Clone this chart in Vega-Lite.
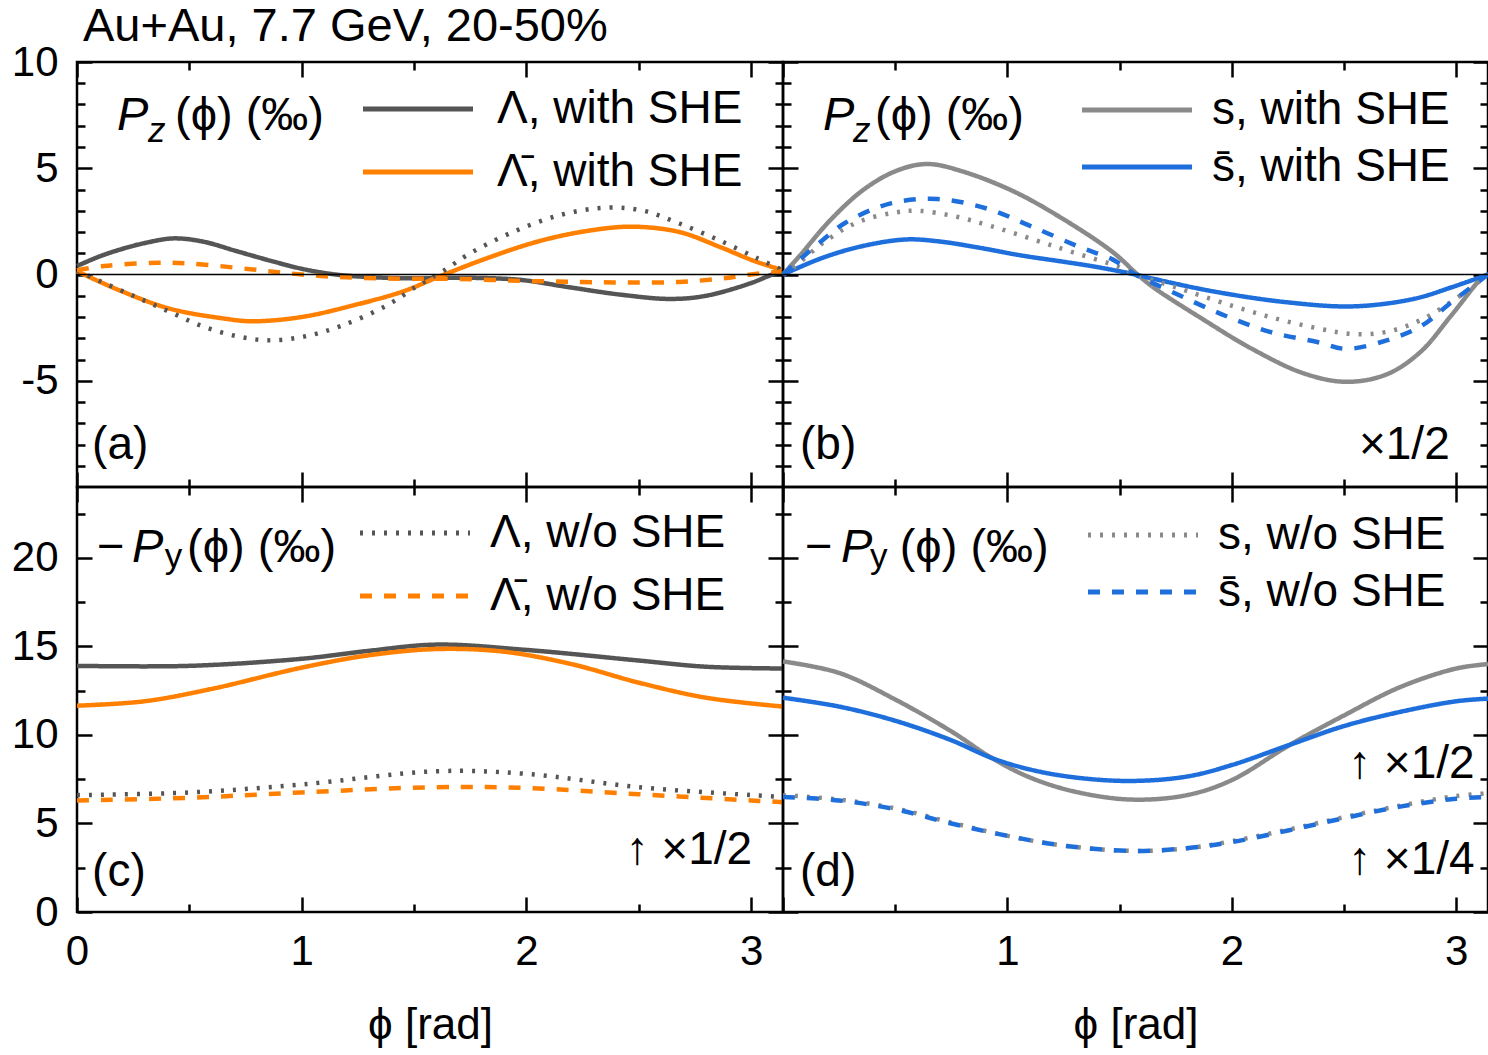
{
  "$schema": "https://vega.github.io/schema/vega-lite/v6.json",
  "autosize": {"type": "pad"},
  "padding": {"left": 10, "top": 1, "right": 0, "bottom": 5},
  "background": "white",
  "config": {
    "font": "Liberation Sans",
    "view": {"stroke": "black", "strokeWidth": 2.5},
    "axis": {
      "domain": false, "grid": false, "tickColor": "black", "tickWidth": 2.5,
      "labelFont": "Liberation Sans", "labelFontSize": 42, "labelColor": "black",
      "labelFlush": false, "labelOverlap": false, "labelBound": false,
      "titleFont": "Liberation Sans", "titleFontSize": 44, "titleFontWeight": "normal", "titleColor": "black"
    },
    "legend": {
      "orient": "none", "title": null, "padding": 0, "rowPadding": 6,
      "symbolType": "stroke", "symbolSize": 12100, "symbolStrokeWidth": 5,
      "labelFont": "Liberation Sans", "labelFontSize": 46, "labelColor": "black", "labelLimit": 600
    },
    "text": {"font": "Liberation Sans", "fontSize": 46, "color": "black"}
  },
  "datasets": {
    "pa": [
      {"series": "\u039b, with SHE", "phi": 0, "value": 0.4},
      {"series": "\u039b, with SHE", "phi": 0.1, "value": 0.85},
      {"series": "\u039b, with SHE", "phi": 0.2, "value": 1.2},
      {"series": "\u039b, with SHE", "phi": 0.31, "value": 1.5},
      {"series": "\u039b, with SHE", "phi": 0.43, "value": 1.7},
      {"series": "\u039b, with SHE", "phi": 0.56, "value": 1.55},
      {"series": "\u039b, with SHE", "phi": 0.71, "value": 1.1},
      {"series": "\u039b, with SHE", "phi": 0.86, "value": 0.65},
      {"series": "\u039b, with SHE", "phi": 1.0, "value": 0.27},
      {"series": "\u039b, with SHE", "phi": 1.15, "value": 0.0},
      {"series": "\u039b, with SHE", "phi": 1.3, "value": -0.12},
      {"series": "\u039b, with SHE", "phi": 1.5, "value": -0.18},
      {"series": "\u039b, with SHE", "phi": 1.7, "value": -0.15},
      {"series": "\u039b, with SHE", "phi": 1.97, "value": -0.25},
      {"series": "\u039b, with SHE", "phi": 2.19, "value": -0.6},
      {"series": "\u039b, with SHE", "phi": 2.42, "value": -0.95},
      {"series": "\u039b, with SHE", "phi": 2.64, "value": -1.15},
      {"series": "\u039b, with SHE", "phi": 2.8, "value": -1.0},
      {"series": "\u039b, with SHE", "phi": 3.0, "value": -0.4},
      {"series": "\u039b, with SHE", "phi": 3.07, "value": -0.1},
      {"series": "\u039b, with SHE", "phi": 3.1416, "value": 0.2},

      {"series": "\u039b\u0304, with SHE", "phi": 0, "value": 0.15},
      {"series": "\u039b\u0304, with SHE", "phi": 0.19, "value": -0.75},
      {"series": "\u039b\u0304, with SHE", "phi": 0.41, "value": -1.6},
      {"series": "\u039b\u0304, with SHE", "phi": 0.64, "value": -2.05},
      {"series": "\u039b\u0304, with SHE", "phi": 0.78, "value": -2.2},
      {"series": "\u039b\u0304, with SHE", "phi": 1.0, "value": -2.0},
      {"series": "\u039b\u0304, with SHE", "phi": 1.23, "value": -1.45},
      {"series": "\u039b\u0304, with SHE", "phi": 1.45, "value": -0.8},
      {"series": "\u039b\u0304, with SHE", "phi": 1.6, "value": -0.15},
      {"series": "\u039b\u0304, with SHE", "phi": 1.82, "value": 0.75},
      {"series": "\u039b\u0304, with SHE", "phi": 2.05, "value": 1.55},
      {"series": "\u039b\u0304, with SHE", "phi": 2.27, "value": 2.05},
      {"series": "\u039b\u0304, with SHE", "phi": 2.47, "value": 2.25},
      {"series": "\u039b\u0304, with SHE", "phi": 2.68, "value": 2.0},
      {"series": "\u039b\u0304, with SHE", "phi": 2.86, "value": 1.3},
      {"series": "\u039b\u0304, with SHE", "phi": 3.01, "value": 0.65},
      {"series": "\u039b\u0304, with SHE", "phi": 3.1416, "value": 0.2},

      {"series": "\u039b, w/o SHE", "phi": 0, "value": 0.2},
      {"series": "\u039b, w/o SHE", "phi": 0.1, "value": -0.3},
      {"series": "\u039b, w/o SHE", "phi": 0.25, "value": -1.0},
      {"series": "\u039b, w/o SHE", "phi": 0.4, "value": -1.7},
      {"series": "\u039b, w/o SHE", "phi": 0.55, "value": -2.4},
      {"series": "\u039b, w/o SHE", "phi": 0.71, "value": -2.9},
      {"series": "\u039b, w/o SHE", "phi": 0.86, "value": -3.1},
      {"series": "\u039b, w/o SHE", "phi": 1.02, "value": -2.9},
      {"series": "\u039b, w/o SHE", "phi": 1.18, "value": -2.4},
      {"series": "\u039b, w/o SHE", "phi": 1.38, "value": -1.45},
      {"series": "\u039b, w/o SHE", "phi": 1.52, "value": -0.5},
      {"series": "\u039b, w/o SHE", "phi": 1.62, "value": 0.1},
      {"series": "\u039b, w/o SHE", "phi": 1.75, "value": 1.0},
      {"series": "\u039b, w/o SHE", "phi": 1.94, "value": 2.0},
      {"series": "\u039b, w/o SHE", "phi": 2.15, "value": 2.8},
      {"series": "\u039b, w/o SHE", "phi": 2.36, "value": 3.15},
      {"series": "\u039b, w/o SHE", "phi": 2.52, "value": 3.0},
      {"series": "\u039b, w/o SHE", "phi": 2.68, "value": 2.4},
      {"series": "\u039b, w/o SHE", "phi": 2.86, "value": 1.6},
      {"series": "\u039b, w/o SHE", "phi": 3.03, "value": 0.75},
      {"series": "\u039b, w/o SHE", "phi": 3.1416, "value": 0.2},

      {"series": "\u039b\u0304, w/o SHE", "phi": 0, "value": 0.2},
      {"series": "\u039b\u0304, w/o SHE", "phi": 0.12, "value": 0.4},
      {"series": "\u039b\u0304, w/o SHE", "phi": 0.36, "value": 0.55},
      {"series": "\u039b\u0304, w/o SHE", "phi": 0.5, "value": 0.52},
      {"series": "\u039b\u0304, w/o SHE", "phi": 0.77, "value": 0.25},
      {"series": "\u039b\u0304, w/o SHE", "phi": 1.0, "value": 0.0},
      {"series": "\u039b\u0304, w/o SHE", "phi": 1.23, "value": -0.15},
      {"series": "\u039b\u0304, w/o SHE", "phi": 1.45, "value": -0.2},
      {"series": "\u039b\u0304, w/o SHE", "phi": 1.67, "value": -0.2},
      {"series": "\u039b\u0304, w/o SHE", "phi": 1.97, "value": -0.3},
      {"series": "\u039b\u0304, w/o SHE", "phi": 2.24, "value": -0.35},
      {"series": "\u039b\u0304, w/o SHE", "phi": 2.46, "value": -0.38},
      {"series": "\u039b\u0304, w/o SHE", "phi": 2.68, "value": -0.35},
      {"series": "\u039b\u0304, w/o SHE", "phi": 2.86, "value": -0.2},
      {"series": "\u039b\u0304, w/o SHE", "phi": 3.0, "value": 0.0},
      {"series": "\u039b\u0304, w/o SHE", "phi": 3.1416, "value": 0.15}
    ],
    "pb": [
      {"series": "s, with SHE", "phi": 0, "value": 0},
      {"series": "s, with SHE", "phi": 0.076, "value": 0.9},
      {"series": "s, with SHE", "phi": 0.21, "value": 2.55},
      {"series": "s, with SHE", "phi": 0.36, "value": 4.0},
      {"series": "s, with SHE", "phi": 0.51, "value": 4.9},
      {"series": "s, with SHE", "phi": 0.645, "value": 5.2},
      {"series": "s, with SHE", "phi": 0.8, "value": 4.85},
      {"series": "s, with SHE", "phi": 1.03, "value": 3.9},
      {"series": "s, with SHE", "phi": 1.25, "value": 2.6},
      {"series": "s, with SHE", "phi": 1.47, "value": 1.05},
      {"series": "s, with SHE", "phi": 1.58, "value": 0.0},
      {"series": "s, with SHE", "phi": 1.65, "value": -0.6},
      {"series": "s, with SHE", "phi": 1.87, "value": -2.1},
      {"series": "s, with SHE", "phi": 2.09, "value": -3.5},
      {"series": "s, with SHE", "phi": 2.32, "value": -4.65},
      {"series": "s, with SHE", "phi": 2.51, "value": -5.05},
      {"series": "s, with SHE", "phi": 2.69, "value": -4.7},
      {"series": "s, with SHE", "phi": 2.84, "value": -3.65},
      {"series": "s, with SHE", "phi": 2.98, "value": -1.9},
      {"series": "s, with SHE", "phi": 3.12, "value": -0.1},
      {"series": "s, with SHE", "phi": 3.1416, "value": 0},

      {"series": "s\u0304, with SHE", "phi": 0, "value": 0},
      {"series": "s\u0304, with SHE", "phi": 0.18, "value": 0.8},
      {"series": "s\u0304, with SHE", "phi": 0.36, "value": 1.35},
      {"series": "s\u0304, with SHE", "phi": 0.55, "value": 1.65},
      {"series": "s\u0304, with SHE", "phi": 0.7, "value": 1.55},
      {"series": "s\u0304, with SHE", "phi": 0.88, "value": 1.25},
      {"series": "s\u0304, with SHE", "phi": 1.06, "value": 0.9},
      {"series": "s\u0304, with SHE", "phi": 1.25, "value": 0.6},
      {"series": "s\u0304, with SHE", "phi": 1.4, "value": 0.35},
      {"series": "s\u0304, with SHE", "phi": 1.57, "value": 0.0},
      {"series": "s\u0304, with SHE", "phi": 1.65, "value": -0.2},
      {"series": "s\u0304, with SHE", "phi": 1.92, "value": -0.8},
      {"series": "s\u0304, with SHE", "phi": 2.24, "value": -1.3},
      {"series": "s\u0304, with SHE", "phi": 2.54, "value": -1.5},
      {"series": "s\u0304, with SHE", "phi": 2.81, "value": -1.15},
      {"series": "s\u0304, with SHE", "phi": 2.98, "value": -0.6},
      {"series": "s\u0304, with SHE", "phi": 3.1416, "value": 0},

      {"series": "s, w/o SHE", "phi": 0, "value": 0},
      {"series": "s, w/o SHE", "phi": 0.05, "value": 0.35},
      {"series": "s, w/o SHE", "phi": 0.18, "value": 1.5},
      {"series": "s, w/o SHE", "phi": 0.33, "value": 2.45},
      {"series": "s, w/o SHE", "phi": 0.49, "value": 2.9},
      {"series": "s, w/o SHE", "phi": 0.6, "value": 3.0},
      {"series": "s, w/o SHE", "phi": 0.76, "value": 2.75},
      {"series": "s, w/o SHE", "phi": 0.92, "value": 2.3},
      {"series": "s, w/o SHE", "phi": 1.13, "value": 1.6},
      {"series": "s, w/o SHE", "phi": 1.29, "value": 1.05},
      {"series": "s, w/o SHE", "phi": 1.5, "value": 0.35},
      {"series": "s, w/o SHE", "phi": 1.57, "value": 0.0},
      {"series": "s, w/o SHE", "phi": 1.75, "value": -0.6},
      {"series": "s, w/o SHE", "phi": 1.95, "value": -1.3},
      {"series": "s, w/o SHE", "phi": 2.17, "value": -2.0},
      {"series": "s, w/o SHE", "phi": 2.39, "value": -2.55},
      {"series": "s, w/o SHE", "phi": 2.54, "value": -2.8},
      {"series": "s, w/o SHE", "phi": 2.69, "value": -2.7},
      {"series": "s, w/o SHE", "phi": 2.85, "value": -2.1},
      {"series": "s, w/o SHE", "phi": 3.03, "value": -0.9},
      {"series": "s, w/o SHE", "phi": 3.1416, "value": 0},

      {"series": "s\u0304, w/o SHE", "phi": 0, "value": 0},
      {"series": "s\u0304, w/o SHE", "phi": 0.08, "value": 0.75},
      {"series": "s\u0304, w/o SHE", "phi": 0.18, "value": 1.65},
      {"series": "s\u0304, w/o SHE", "phi": 0.28, "value": 2.45},
      {"series": "s\u0304, w/o SHE", "phi": 0.48, "value": 3.35},
      {"series": "s\u0304, w/o SHE", "phi": 0.69, "value": 3.55},
      {"series": "s\u0304, w/o SHE", "phi": 0.91, "value": 3.1},
      {"series": "s\u0304, w/o SHE", "phi": 1.11, "value": 2.25},
      {"series": "s\u0304, w/o SHE", "phi": 1.32, "value": 1.3},
      {"series": "s\u0304, w/o SHE", "phi": 1.47, "value": 0.7},
      {"series": "s\u0304, w/o SHE", "phi": 1.57, "value": 0.0},
      {"series": "s\u0304, w/o SHE", "phi": 1.72, "value": -0.75},
      {"series": "s\u0304, w/o SHE", "phi": 1.95, "value": -1.85},
      {"series": "s\u0304, w/o SHE", "phi": 2.17, "value": -2.7},
      {"series": "s\u0304, w/o SHE", "phi": 2.39, "value": -3.2},
      {"series": "s\u0304, w/o SHE", "phi": 2.51, "value": -3.5},
      {"series": "s\u0304, w/o SHE", "phi": 2.69, "value": -3.1},
      {"series": "s\u0304, w/o SHE", "phi": 2.84, "value": -2.45},
      {"series": "s\u0304, w/o SHE", "phi": 2.98, "value": -1.3},
      {"series": "s\u0304, w/o SHE", "phi": 3.1416, "value": 0}
    ],
    "pc": [
      {"series": "\u039b, with SHE", "phi": 0, "value": 13.9},
      {"series": "\u039b, with SHE", "phi": 0.5, "value": 13.9},
      {"series": "\u039b, with SHE", "phi": 1.0, "value": 14.3},
      {"series": "\u039b, with SHE", "phi": 1.3, "value": 14.75},
      {"series": "\u039b, with SHE", "phi": 1.6, "value": 15.1},
      {"series": "\u039b, with SHE", "phi": 2.0, "value": 14.8},
      {"series": "\u039b, with SHE", "phi": 2.5, "value": 14.2},
      {"series": "\u039b, with SHE", "phi": 2.8, "value": 13.85},
      {"series": "\u039b, with SHE", "phi": 3.1416, "value": 13.75},

      {"series": "\u039b\u0304, with SHE", "phi": 0, "value": 11.65},
      {"series": "\u039b\u0304, with SHE", "phi": 0.3, "value": 11.9},
      {"series": "\u039b\u0304, with SHE", "phi": 0.6, "value": 12.6},
      {"series": "\u039b\u0304, with SHE", "phi": 1.0, "value": 13.8},
      {"series": "\u039b\u0304, with SHE", "phi": 1.3, "value": 14.5},
      {"series": "\u039b\u0304, with SHE", "phi": 1.6, "value": 14.85},
      {"series": "\u039b\u0304, with SHE", "phi": 1.9, "value": 14.7},
      {"series": "\u039b\u0304, with SHE", "phi": 2.2, "value": 14.0},
      {"series": "\u039b\u0304, with SHE", "phi": 2.5, "value": 12.95},
      {"series": "\u039b\u0304, with SHE", "phi": 2.8, "value": 12.1},
      {"series": "\u039b\u0304, with SHE", "phi": 3.1416, "value": 11.6},

      {"series": "\u039b, w/o SHE", "phi": 0, "value": 6.6},
      {"series": "\u039b, w/o SHE", "phi": 0.5, "value": 6.75},
      {"series": "\u039b, w/o SHE", "phi": 1.0, "value": 7.2},
      {"series": "\u039b, w/o SHE", "phi": 1.6, "value": 7.95},
      {"series": "\u039b, w/o SHE", "phi": 2.0, "value": 7.8},
      {"series": "\u039b, w/o SHE", "phi": 2.5, "value": 7.05},
      {"series": "\u039b, w/o SHE", "phi": 3.0, "value": 6.6},
      {"series": "\u039b, w/o SHE", "phi": 3.1416, "value": 6.5},

      {"series": "\u039b\u0304, w/o SHE", "phi": 0, "value": 6.3},
      {"series": "\u039b\u0304, w/o SHE", "phi": 0.5, "value": 6.45},
      {"series": "\u039b\u0304, w/o SHE", "phi": 1.0, "value": 6.75},
      {"series": "\u039b\u0304, w/o SHE", "phi": 1.6, "value": 7.05},
      {"series": "\u039b\u0304, w/o SHE", "phi": 2.0, "value": 7.0},
      {"series": "\u039b\u0304, w/o SHE", "phi": 2.5, "value": 6.65},
      {"series": "\u039b\u0304, w/o SHE", "phi": 3.0, "value": 6.3},
      {"series": "\u039b\u0304, w/o SHE", "phi": 3.1416, "value": 6.2}
    ],
    "pd": [
      {"series": "s, with SHE", "phi": 0, "value": 14.15},
      {"series": "s, with SHE", "phi": 0.25, "value": 13.5},
      {"series": "s, with SHE", "phi": 0.5, "value": 12.0},
      {"series": "s, with SHE", "phi": 0.75, "value": 10.2},
      {"series": "s, with SHE", "phi": 0.93, "value": 8.7},
      {"series": "s, with SHE", "phi": 1.1, "value": 7.6},
      {"series": "s, with SHE", "phi": 1.3, "value": 6.8},
      {"series": "s, with SHE", "phi": 1.55, "value": 6.35},
      {"series": "s, with SHE", "phi": 1.8, "value": 6.6},
      {"series": "s, with SHE", "phi": 2.0, "value": 7.45},
      {"series": "s, with SHE", "phi": 2.26, "value": 9.45},
      {"series": "s, with SHE", "phi": 2.5, "value": 11.1},
      {"series": "s, with SHE", "phi": 2.75, "value": 12.7},
      {"series": "s, with SHE", "phi": 3.0, "value": 13.75},
      {"series": "s, with SHE", "phi": 3.1416, "value": 14.0},

      {"series": "s\u0304, with SHE", "phi": 0, "value": 12.1},
      {"series": "s\u0304, with SHE", "phi": 0.25, "value": 11.6},
      {"series": "s\u0304, with SHE", "phi": 0.5, "value": 10.8},
      {"series": "s\u0304, with SHE", "phi": 0.75, "value": 9.7},
      {"series": "s\u0304, with SHE", "phi": 0.93, "value": 8.7},
      {"series": "s\u0304, with SHE", "phi": 1.1, "value": 8.05},
      {"series": "s\u0304, with SHE", "phi": 1.3, "value": 7.6},
      {"series": "s\u0304, with SHE", "phi": 1.55, "value": 7.4},
      {"series": "s\u0304, with SHE", "phi": 1.8, "value": 7.65},
      {"series": "s\u0304, with SHE", "phi": 2.0, "value": 8.3},
      {"series": "s\u0304, with SHE", "phi": 2.26, "value": 9.45},
      {"series": "s\u0304, with SHE", "phi": 2.5, "value": 10.5},
      {"series": "s\u0304, with SHE", "phi": 2.75, "value": 11.3},
      {"series": "s\u0304, with SHE", "phi": 3.0, "value": 11.9},
      {"series": "s\u0304, with SHE", "phi": 3.1416, "value": 12.05},

      {"series": "s, w/o SHE", "phi": 0, "value": 6.6},
      {"series": "s, w/o SHE", "phi": 0.25, "value": 6.35},
      {"series": "s, w/o SHE", "phi": 0.5, "value": 5.85},
      {"series": "s, w/o SHE", "phi": 0.75, "value": 5.05},
      {"series": "s, w/o SHE", "phi": 1.0, "value": 4.3},
      {"series": "s, w/o SHE", "phi": 1.25, "value": 3.75},
      {"series": "s, w/o SHE", "phi": 1.55, "value": 3.45},
      {"series": "s, w/o SHE", "phi": 1.8, "value": 3.6},
      {"series": "s, w/o SHE", "phi": 2.0, "value": 4.0},
      {"series": "s, w/o SHE", "phi": 2.25, "value": 4.65},
      {"series": "s, w/o SHE", "phi": 2.5, "value": 5.35},
      {"series": "s, w/o SHE", "phi": 2.75, "value": 6.0},
      {"series": "s, w/o SHE", "phi": 3.0, "value": 6.55},
      {"series": "s, w/o SHE", "phi": 3.1416, "value": 6.7},

      {"series": "s\u0304, w/o SHE", "phi": 0, "value": 6.5},
      {"series": "s\u0304, w/o SHE", "phi": 0.25, "value": 6.3},
      {"series": "s\u0304, w/o SHE", "phi": 0.5, "value": 5.8},
      {"series": "s\u0304, w/o SHE", "phi": 0.75, "value": 5.0},
      {"series": "s\u0304, w/o SHE", "phi": 1.0, "value": 4.3},
      {"series": "s\u0304, w/o SHE", "phi": 1.25, "value": 3.75},
      {"series": "s\u0304, w/o SHE", "phi": 1.55, "value": 3.45},
      {"series": "s\u0304, w/o SHE", "phi": 1.8, "value": 3.6},
      {"series": "s\u0304, w/o SHE", "phi": 2.0, "value": 3.95},
      {"series": "s\u0304, w/o SHE", "phi": 2.25, "value": 4.6},
      {"series": "s\u0304, w/o SHE", "phi": 2.5, "value": 5.3},
      {"series": "s\u0304, w/o SHE", "phi": 2.75, "value": 5.95},
      {"series": "s\u0304, w/o SHE", "phi": 3.0, "value": 6.4},
      {"series": "s\u0304, w/o SHE", "phi": 3.1416, "value": 6.5}
    ]
  },
  "columns": 2,
  "spacing": 0,
  "bounds": "flush",
  "resolve": {"scale": {"color": "independent", "strokeDash": "independent"}, "legend": {"color": "independent", "strokeDash": "independent"}},
  "concat": [
    {
      "width": 706, "height": 425,
      "title": {"text": "Au+Au, 7.7 GeV, 20-50%", "anchor": "start", "frame": "group", "baseline": "alphabetic", "offset": -47, "dx": 6, "fontSize": 47, "fontWeight": "normal", "color": "black", "font": "Liberation Sans"},
      "resolve": {"axis": {"x": "independent", "y": "independent"}},
      "layer": [
        {
          "data": {"name": "pa"},
          "mark": {"type": "line", "strokeWidth": 4.5, "interpolate": "catmull-rom"},
          "encoding": {
            "x": {"field": "phi", "type": "quantitative", "scale": {"domain": [0, 3.1416], "nice": false, "zero": false},
                  "axis": {"orient": "bottom", "values": [0, 0.5, 1, 1.5, 2, 2.5, 3], "labels": false, "title": null,
                           "tickSize": {"condition": {"test": "datum.value % 1 === 0", "value": -15}, "value": -8}}},
            "y": {"field": "value", "type": "quantitative", "scale": {"domain": [-10, 10], "nice": false, "zero": false},
                  "axis": {"orient": "left", "values": [-9, -8, -7, -6, -5, -4, -3, -2, -1, 0, 1, 2, 3, 4, 5, 6, 7, 8, 9, 10], "title": null, "labelPadding": 34,
                           "labelExpr": "datum.value % 5 === 0 ? (datum.value < 0 ? '-' + abs(datum.value) : '' + datum.value) : ''",
                           "tickSize": {"condition": {"test": "datum.value % 5 === 0", "value": -15}, "value": -8}}},
            "color": {"field": "series", "type": "nominal",
                      "scale": {"domain": ["\u039b, with SHE", "\u039b\u0304, with SHE", "\u039b, w/o SHE", "\u039b\u0304, w/o SHE"], "range": ["#555555", "#ff8000", "#555555", "#ff8000"]},
                      "legend": {"values": ["\u039b, with SHE", "\u039b\u0304, with SHE"], "legendX": 283.5, "legendY": 18.5, "clipHeight": 57, "labelOffset": 21.5}},
            "strokeDash": {"field": "series", "type": "nominal",
                      "scale": {"domain": ["\u039b, with SHE", "\u039b\u0304, with SHE", "\u039b, w/o SHE", "\u039b\u0304, w/o SHE"], "range": [[1, 0], [1, 0], [3, 9], [12, 12]]},
                      "legend": {"values": ["\u039b, with SHE", "\u039b\u0304, with SHE"], "legendX": 283.5, "legendY": 18.5, "clipHeight": 57, "labelOffset": 21.5}}
          }
        },
        {
          "data": {"values": [{}]},
          "mark": {"type": "rule", "strokeWidth": 1.5, "color": "black"},
          "encoding": {"y": {"datum": 0, "type": "quantitative", "axis": null}}
        },
        {
          "data": {"values": [{}]},
          "mark": {"type": "text", "text": "(a)", "align": "left", "baseline": "middle"},
          "encoding": {
            "x": {"datum": 0.067, "type": "quantitative",
                  "axis": {"orient": "top", "values": [0, 0.5, 1, 1.5, 2, 2.5, 3], "labels": false, "title": null,
                           "tickSize": {"condition": {"test": "datum.value % 1 === 0", "value": -15}, "value": -8}}},
            "y": {"datum": -8.02, "type": "quantitative",
                  "axis": {"orient": "right", "values": [-9, -8, -7, -6, -5, -4, -3, -2, -1, 0, 1, 2, 3, 4, 5, 6, 7, 8, 9, 10], "labels": false, "title": null,
                           "tickSize": {"condition": {"test": "datum.value % 5 === 0", "value": -15}, "value": -8}}}
          }
        },
        {
          "data": {"values": [{}]},
          "mark": {"type": "text", "text": "P", "align": "left", "baseline": "alphabetic", "fontStyle": "italic", "fontSize": 47},
          "encoding": {"x": {"datum": 0.178, "type": "quantitative", "axis": null}, "y": {"datum": 6.8, "type": "quantitative", "axis": null}}
        },
        {
          "data": {"values": [{}]},
          "mark": {"type": "text", "text": "z", "align": "left", "baseline": "alphabetic", "fontStyle": "italic", "fontSize": 35},
          "encoding": {"x": {"datum": 0.316, "type": "quantitative", "axis": null}, "y": {"datum": 6.24, "type": "quantitative", "axis": null}}
        },
        {
          "data": {"values": [{}]},
          "mark": {"type": "text", "text": "(\u03d5) (\u2030)", "align": "left", "baseline": "alphabetic", "fontSize": 47},
          "encoding": {"x": {"datum": 0.436, "type": "quantitative", "axis": null}, "y": {"datum": 6.8, "type": "quantitative", "axis": null}}
        }
      ]
    },
    {
      "width": 705, "height": 425,
      "resolve": {"axis": {"x": "independent", "y": "independent"}},
      "layer": [
        {
          "data": {"name": "pb"},
          "mark": {"type": "line", "strokeWidth": 4.5, "interpolate": "catmull-rom"},
          "encoding": {
            "x": {"field": "phi", "type": "quantitative", "scale": {"domain": [0, 3.1416], "nice": false, "zero": false},
                  "axis": {"orient": "bottom", "values": [0, 0.5, 1, 1.5, 2, 2.5, 3], "labels": false, "title": null,
                           "tickSize": {"condition": {"test": "datum.value % 1 === 0", "value": -15}, "value": -8}}},
            "y": {"field": "value", "type": "quantitative", "scale": {"domain": [-10, 10], "nice": false, "zero": false},
                  "axis": {"orient": "left", "values": [-9, -8, -7, -6, -5, -4, -3, -2, -1, 0, 1, 2, 3, 4, 5, 6, 7, 8, 9, 10], "labels": false, "title": null,
                           "tickSize": {"condition": {"test": "datum.value % 5 === 0", "value": -15}, "value": -8}}},
            "color": {"field": "series", "type": "nominal",
                      "scale": {"domain": ["s, with SHE", "s\u0304, with SHE", "s, w/o SHE", "s\u0304, w/o SHE"], "range": ["#8a8a8a", "#1e6fdc", "#8a8a8a", "#1e6fdc"]},
                      "legend": {"values": ["s, with SHE", "s\u0304, with SHE"], "legendX": 296.5, "legendY": 22.5, "clipHeight": 51, "labelOffset": 17.5}},
            "strokeDash": {"field": "series", "type": "nominal",
                      "scale": {"domain": ["s, with SHE", "s\u0304, with SHE", "s, w/o SHE", "s\u0304, w/o SHE"], "range": [[1, 0], [1, 0], [3, 9], [12, 12]]},
                      "legend": {"values": ["s, with SHE", "s\u0304, with SHE"], "legendX": 296.5, "legendY": 22.5, "clipHeight": 51, "labelOffset": 17.5}}
          }
        },
        {
          "data": {"values": [{}]},
          "mark": {"type": "rule", "strokeWidth": 1.5, "color": "black"},
          "encoding": {"y": {"datum": 0, "type": "quantitative", "axis": null}}
        },
        {
          "data": {"values": [{}]},
          "mark": {"type": "text", "text": "(b)", "align": "left", "baseline": "middle"},
          "encoding": {
            "x": {"datum": 0.076, "type": "quantitative",
                  "axis": {"orient": "top", "values": [0, 0.5, 1, 1.5, 2, 2.5, 3], "labels": false, "title": null,
                           "tickSize": {"condition": {"test": "datum.value % 1 === 0", "value": -15}, "value": -8}}},
            "y": {"datum": -8.02, "type": "quantitative",
                  "axis": {"orient": "right", "values": [-9, -8, -7, -6, -5, -4, -3, -2, -1, 0, 1, 2, 3, 4, 5, 6, 7, 8, 9, 10], "labels": false, "title": null,
                           "tickSize": {"condition": {"test": "datum.value % 5 === 0", "value": -15}, "value": -8}}}
          }
        },
        {
          "data": {"values": [{}]},
          "mark": {"type": "text", "text": "\u00d71/2", "align": "right", "baseline": "middle"},
          "encoding": {"x": {"datum": 2.971, "type": "quantitative", "axis": null}, "y": {"datum": -8.02, "type": "quantitative", "axis": null}}
        },
        {
          "data": {"values": [{}]},
          "mark": {"type": "text", "text": "P", "align": "left", "baseline": "alphabetic", "fontStyle": "italic", "fontSize": 47},
          "encoding": {"x": {"datum": 0.178, "type": "quantitative", "axis": null}, "y": {"datum": 6.8, "type": "quantitative", "axis": null}}
        },
        {
          "data": {"values": [{}]},
          "mark": {"type": "text", "text": "z", "align": "left", "baseline": "alphabetic", "fontStyle": "italic", "fontSize": 35},
          "encoding": {"x": {"datum": 0.312, "type": "quantitative", "axis": null}, "y": {"datum": 6.24, "type": "quantitative", "axis": null}}
        },
        {
          "data": {"values": [{}]},
          "mark": {"type": "text", "text": "(\u03d5) (\u2030)", "align": "left", "baseline": "alphabetic", "fontSize": 47},
          "encoding": {"x": {"datum": 0.41, "type": "quantitative", "axis": null}, "y": {"datum": 6.8, "type": "quantitative", "axis": null}}
        }
      ]
    },
    {
      "width": 706, "height": 425,
      "resolve": {"axis": {"x": "independent", "y": "independent"}},
      "layer": [
        {
          "data": {"name": "pc"},
          "mark": {"type": "line", "strokeWidth": 4.5, "interpolate": "catmull-rom"},
          "encoding": {
            "x": {"field": "phi", "type": "quantitative", "scale": {"domain": [0, 3.1416], "nice": false, "zero": false},
                  "axis": {"orient": "bottom", "values": [0, 0.5, 1, 1.5, 2, 2.5, 3], "title": "\u03d5 [rad]", "titlePadding": 24, "labelPadding": 34,
                           "labelExpr": "datum.value % 1 === 0 ? '' + datum.value : ''",
                           "tickSize": {"condition": {"test": "datum.value % 1 === 0", "value": -15}, "value": -8}}},
            "y": {"field": "value", "type": "quantitative", "scale": {"domain": [0, 24], "nice": false, "zero": false},
                  "axis": {"orient": "left", "values": [0, 2.5, 5, 7.5, 10, 12.5, 15, 17.5, 20, 22.5], "title": null, "labelPadding": 34,
                           "labelExpr": "datum.value % 5 === 0 ? '' + datum.value : ''",
                           "tickSize": {"condition": {"test": "datum.value % 5 === 0", "value": -15}, "value": -8}}},
            "color": {"field": "series", "type": "nominal",
                      "scale": {"domain": ["\u039b, with SHE", "\u039b\u0304, with SHE", "\u039b, w/o SHE", "\u039b\u0304, w/o SHE"], "range": ["#555555", "#ff8000", "#555555", "#ff8000"]},
                      "legend": {"values": ["\u039b, w/o SHE", "\u039b\u0304, w/o SHE"], "legendX": 280.5, "legendY": 17.5, "clipHeight": 57, "labelOffset": 17.5}},
            "strokeDash": {"field": "series", "type": "nominal",
                      "scale": {"domain": ["\u039b, with SHE", "\u039b\u0304, with SHE", "\u039b, w/o SHE", "\u039b\u0304, w/o SHE"], "range": [[1, 0], [1, 0], [3, 9], [12, 12]]},
                      "legend": {"values": ["\u039b, w/o SHE", "\u039b\u0304, w/o SHE"], "legendX": 280.5, "legendY": 17.5, "clipHeight": 57, "labelOffset": 17.5}}
          }
        },
        {
          "data": {"values": [{}]},
          "mark": {"type": "text", "text": "(c)", "align": "left", "baseline": "middle"},
          "encoding": {
            "x": {"datum": 0.067, "type": "quantitative",
                  "axis": {"orient": "top", "values": [0, 0.5, 1, 1.5, 2, 2.5, 3], "labels": false, "title": null,
                           "tickSize": {"condition": {"test": "datum.value % 1 === 0", "value": -15}, "value": -8}}},
            "y": {"datum": 2.26, "type": "quantitative",
                  "axis": {"orient": "right", "values": [0, 2.5, 5, 7.5, 10, 12.5, 15, 17.5, 20, 22.5], "labels": false, "title": null,
                           "tickSize": {"condition": {"test": "datum.value % 5 === 0", "value": -15}, "value": -8}}}
          }
        },
        {
          "data": {"values": [{}]},
          "mark": {"type": "text", "text": "\u2191 \u00d71/2", "align": "right", "baseline": "middle"},
          "encoding": {"x": {"datum": 3.004, "type": "quantitative", "axis": null}, "y": {"datum": 3.5, "type": "quantitative", "axis": null}}
        },
        {
          "data": {"values": [{}]},
          "mark": {"type": "text", "text": "\u2212", "align": "left", "baseline": "alphabetic", "fontSize": 47},
          "encoding": {"x": {"datum": 0.089, "type": "quantitative", "axis": null}, "y": {"datum": 19.77, "type": "quantitative", "axis": null}}
        },
        {
          "data": {"values": [{}]},
          "mark": {"type": "text", "text": "P", "align": "left", "baseline": "alphabetic", "fontStyle": "italic", "fontSize": 47},
          "encoding": {"x": {"datum": 0.245, "type": "quantitative", "axis": null}, "y": {"datum": 19.77, "type": "quantitative", "axis": null}}
        },
        {
          "data": {"values": [{}]},
          "mark": {"type": "text", "text": "y", "align": "left", "baseline": "alphabetic", "fontSize": 35},
          "encoding": {"x": {"datum": 0.39, "type": "quantitative", "axis": null}, "y": {"datum": 19.45, "type": "quantitative", "axis": null}}
        },
        {
          "data": {"values": [{}]},
          "mark": {"type": "text", "text": "(\u03d5) (\u2030)", "align": "left", "baseline": "alphabetic", "fontSize": 47},
          "encoding": {"x": {"datum": 0.49, "type": "quantitative", "axis": null}, "y": {"datum": 19.77, "type": "quantitative", "axis": null}}
        }
      ]
    },
    {
      "width": 705, "height": 425,
      "resolve": {"axis": {"x": "independent", "y": "independent"}},
      "layer": [
        {
          "data": {"name": "pd"},
          "mark": {"type": "line", "strokeWidth": 4.5, "interpolate": "catmull-rom"},
          "encoding": {
            "x": {"field": "phi", "type": "quantitative", "scale": {"domain": [0, 3.1416], "nice": false, "zero": false},
                  "axis": {"orient": "bottom", "values": [0, 0.5, 1, 1.5, 2, 2.5, 3], "title": "\u03d5 [rad]", "titlePadding": 24, "labelPadding": 34,
                           "labelExpr": "datum.value % 1 === 0 && datum.value > 0 ? '' + datum.value : ''",
                           "tickSize": {"condition": {"test": "datum.value % 1 === 0", "value": -15}, "value": -8}}},
            "y": {"field": "value", "type": "quantitative", "scale": {"domain": [0, 24], "nice": false, "zero": false},
                  "axis": {"orient": "left", "values": [0, 2.5, 5, 7.5, 10, 12.5, 15, 17.5, 20, 22.5], "labels": false, "title": null,
                           "tickSize": {"condition": {"test": "datum.value % 5 === 0", "value": -15}, "value": -8}}},
            "color": {"field": "series", "type": "nominal",
                      "scale": {"domain": ["s, with SHE", "s\u0304, with SHE", "s, w/o SHE", "s\u0304, w/o SHE"], "range": ["#8a8a8a", "#1e6fdc", "#8a8a8a", "#1e6fdc"]},
                      "legend": {"values": ["s, w/o SHE", "s\u0304, w/o SHE"], "legendX": 302.5, "legendY": 22.5, "clipHeight": 51, "labelOffset": 17.5}},
            "strokeDash": {"field": "series", "type": "nominal",
                      "scale": {"domain": ["s, with SHE", "s\u0304, with SHE", "s, w/o SHE", "s\u0304, w/o SHE"], "range": [[1, 0], [1, 0], [3, 9], [12, 12]]},
                      "legend": {"values": ["s, w/o SHE", "s\u0304, w/o SHE"], "legendX": 302.5, "legendY": 22.5, "clipHeight": 51, "labelOffset": 17.5}}
          }
        },
        {
          "data": {"values": [{}]},
          "mark": {"type": "text", "text": "(d)", "align": "left", "baseline": "middle"},
          "encoding": {
            "x": {"datum": 0.076, "type": "quantitative",
                  "axis": {"orient": "top", "values": [0, 0.5, 1, 1.5, 2, 2.5, 3], "labels": false, "title": null,
                           "tickSize": {"condition": {"test": "datum.value % 1 === 0", "value": -15}, "value": -8}}},
            "y": {"datum": 2.26, "type": "quantitative",
                  "axis": {"orient": "right", "values": [0, 2.5, 5, 7.5, 10, 12.5, 15, 17.5, 20, 22.5], "labels": false, "title": null,
                           "tickSize": {"condition": {"test": "datum.value % 5 === 0", "value": -15}, "value": -8}}}
          }
        },
        {
          "data": {"values": [{}]},
          "mark": {"type": "text", "text": "\u2191 \u00d71/2", "align": "right", "baseline": "middle"},
          "encoding": {"x": {"datum": 3.082, "type": "quantitative", "axis": null}, "y": {"datum": 8.36, "type": "quantitative", "axis": null}}
        },
        {
          "data": {"values": [{}]},
          "mark": {"type": "text", "text": "\u2191 \u00d71/4", "align": "right", "baseline": "middle"},
          "encoding": {"x": {"datum": 3.082, "type": "quantitative", "axis": null}, "y": {"datum": 2.94, "type": "quantitative", "axis": null}}
        },
        {
          "data": {"values": [{}]},
          "mark": {"type": "text", "text": "\u2212", "align": "left", "baseline": "alphabetic", "fontSize": 47},
          "encoding": {"x": {"datum": 0.098, "type": "quantitative", "axis": null}, "y": {"datum": 19.77, "type": "quantitative", "axis": null}}
        },
        {
          "data": {"values": [{}]},
          "mark": {"type": "text", "text": "P", "align": "left", "baseline": "alphabetic", "fontStyle": "italic", "fontSize": 47},
          "encoding": {"x": {"datum": 0.258, "type": "quantitative", "axis": null}, "y": {"datum": 19.77, "type": "quantitative", "axis": null}}
        },
        {
          "data": {"values": [{}]},
          "mark": {"type": "text", "text": "y", "align": "left", "baseline": "alphabetic", "fontSize": 35},
          "encoding": {"x": {"datum": 0.388, "type": "quantitative", "axis": null}, "y": {"datum": 19.45, "type": "quantitative", "axis": null}}
        },
        {
          "data": {"values": [{}]},
          "mark": {"type": "text", "text": "(\u03d5) (\u2030)", "align": "left", "baseline": "alphabetic", "fontSize": 47},
          "encoding": {"x": {"datum": 0.52, "type": "quantitative", "axis": null}, "y": {"datum": 19.77, "type": "quantitative", "axis": null}}
        }
      ]
    }
  ]
}
